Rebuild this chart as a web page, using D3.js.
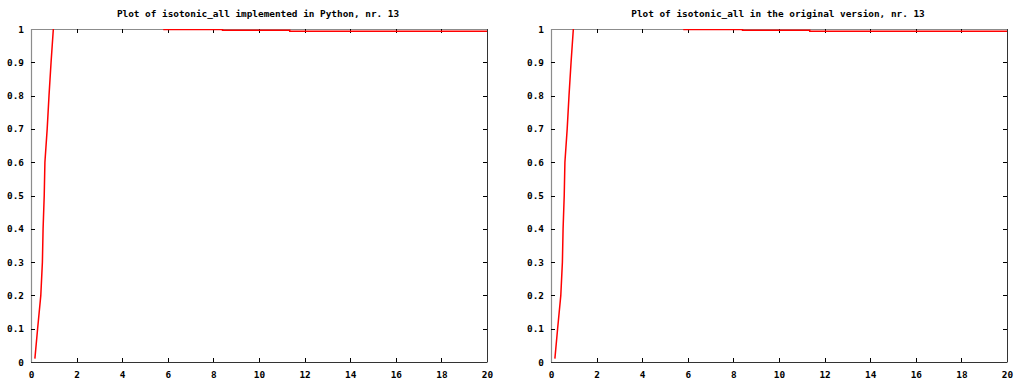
<!DOCTYPE html>
<html>
<head>
<meta charset="utf-8">
<script src="https://cdn.jsdelivr.net/npm/d3@7"></script>
<style>
  body { margin: 0; background: #fff; }
  text { font-family: "DejaVu Sans Mono", monospace; font-weight: bold; font-size: 9.4px; fill: #000; }
</style>
</head>
<body>
<svg id="chart" width="1015" height="381"></svg>
<script>
// two gnuplot-style panels, same data

var titles = ["Plot of isotonic_all implemented in Python, nr. 13",
              "Plot of isotonic_all in the original version, nr. 13"];

var xTicks = [0, 2, 4, 6, 8, 10, 12, 14, 16, 18, 20],
    yTicks = [0, 0.1, 0.2, 0.3, 0.4, 0.5, 0.6, 0.7, 0.8, 0.9, 1],
    yTickLabels = ["0", "0.1", "0.2", "0.3", "0.4", "0.5", "0.6", "0.7", "0.8", "0.9", "1"];

// python version (null = the part hidden under the top border)
var pythonX = [0.17, 0.29, 0.43, 0.50, 0.53, 0.58, 0.61, 0.71, 0.79, 0.88, 0.98, null, 5.8, 8.4, 8.4, 11.35, 11.35, 20],
    pythonY = [0.01, 0.10, 0.20, 0.30, 0.40, 0.50, 0.60, 0.70, 0.80, 0.90, 1.0, null, 0.9985, 0.9985, 0.9962, 0.9962, 0.9932, 0.9932];

// original version
var originalX = [0.17, 0.29, 0.43, 0.50, 0.53, 0.58, 0.61, 0.71, 0.79, 0.88, 0.98, null, 5.8, 8.4, 8.4, 11.35, 11.35, 20],
    originalY = [0.01, 0.10, 0.20, 0.30, 0.40, 0.50, 0.60, 0.70, 0.80, 0.90, 1.0, null, 0.9985, 0.9985, 0.9962, 0.9962, 0.9932, 0.9932];

var series = [[pythonX, pythonY], [originalX, originalY]];

var svg = d3.select("#chart");
var panelLeft = [31, 551], panelW = 456,
    plotTop = 29, plotBottom = 362;

series.forEach(function(s, k) {
  var x0 = panelLeft[k];
  var xs = d3.scaleLinear().domain([0, 20]).range([x0, x0 + panelW]),
      ys = d3.scaleLinear().domain([0, 1]).range([plotBottom, plotTop]);
  var g = svg.append("g");

  svg.append("clipPath").attr("id", "clip" + k)
    .append("rect").attr("x", x0).attr("y", plotTop).attr("width", panelW + 1).attr("height", plotBottom - plotTop);

  g.append("text")
    .attr("x", x0 + panelW / 2 - 1)
    .attr("y", 16.5)
    .attr("text-anchor", "middle")
    .text(titles[k]);

  // border: left/top grey, right/bottom dark
  g.append("line").attr("x1", x0 + 0.5).attr("x2", x0 + 0.5).attr("y1", plotTop).attr("y2", plotBottom)
    .attr("stroke", "#8c8c8c").attr("stroke-width", 1.2);
  g.append("line").attr("x1", x0).attr("x2", x0 + panelW).attr("y1", plotTop + 0.5).attr("y2", plotTop + 0.5)
    .attr("stroke", "#8c8c8c").attr("stroke-width", 1.2);
  g.append("line").attr("x1", x0).attr("x2", x0 + panelW + 0.5).attr("y1", plotBottom + 0.5).attr("y2", plotBottom + 0.5)
    .attr("stroke", "#333").attr("stroke-width", 1);
  g.append("line").attr("x1", x0 + panelW + 0.5).attr("x2", x0 + panelW + 0.5).attr("y1", plotTop).attr("y2", plotBottom)
    .attr("stroke", "#333").attr("stroke-width", 1);

  // x ticks (inward, mirrored on top)
  xTicks.forEach(function(t) {
    var px = Math.round(xs(t)) + 0.5;
    if (t > 0 && t < 20) {
      g.append("line").attr("x1", px).attr("x2", px).attr("y1", plotBottom).attr("y2", plotBottom - 4).attr("stroke", "#000");
      g.append("line").attr("x1", px).attr("x2", px).attr("y1", plotTop).attr("y2", plotTop + 4).attr("stroke", "#000");
    }
    g.append("text")
      .attr("x", xs(t) + 0.5)
      .attr("y", 377.5)
      .attr("text-anchor", "middle")
      .text(t);
  });

  // y ticks
  yTicks.forEach(function(t, i) {
    var py = Math.round(ys(t)) + 0.5;
    if (t > 0 && t < 1) {
      g.append("line").attr("x1", x0).attr("x2", x0 + 4).attr("y1", py).attr("y2", py).attr("stroke", "#000");
      g.append("line").attr("x1", x0 + panelW).attr("x2", x0 + panelW - 4).attr("y1", py).attr("y2", py).attr("stroke", "#000");
    }
    g.append("text")
      .attr("x", x0 - 7)
      .attr("y", ys(t) + 3.5)
      .attr("text-anchor", "end")
      .text(yTickLabels[i]);
  });

  var pts = s[0].map(function(d, i) { return [d, s[1][i]]; });
  var line = d3.line()
    .defined(function(d) { return d[0] !== null; })
    .x(function(d) { return xs(d[0]); })
    .y(function(d) { return ys(d[1]); });
  g.append("path")
    .attr("d", line(pts))
    .attr("clip-path", "url(#clip" + k + ")")
    .attr("fill", "none")
    .attr("stroke", "#ff0000")
    .attr("stroke-width", 1.5);
});
</script>
</body>
</html>
